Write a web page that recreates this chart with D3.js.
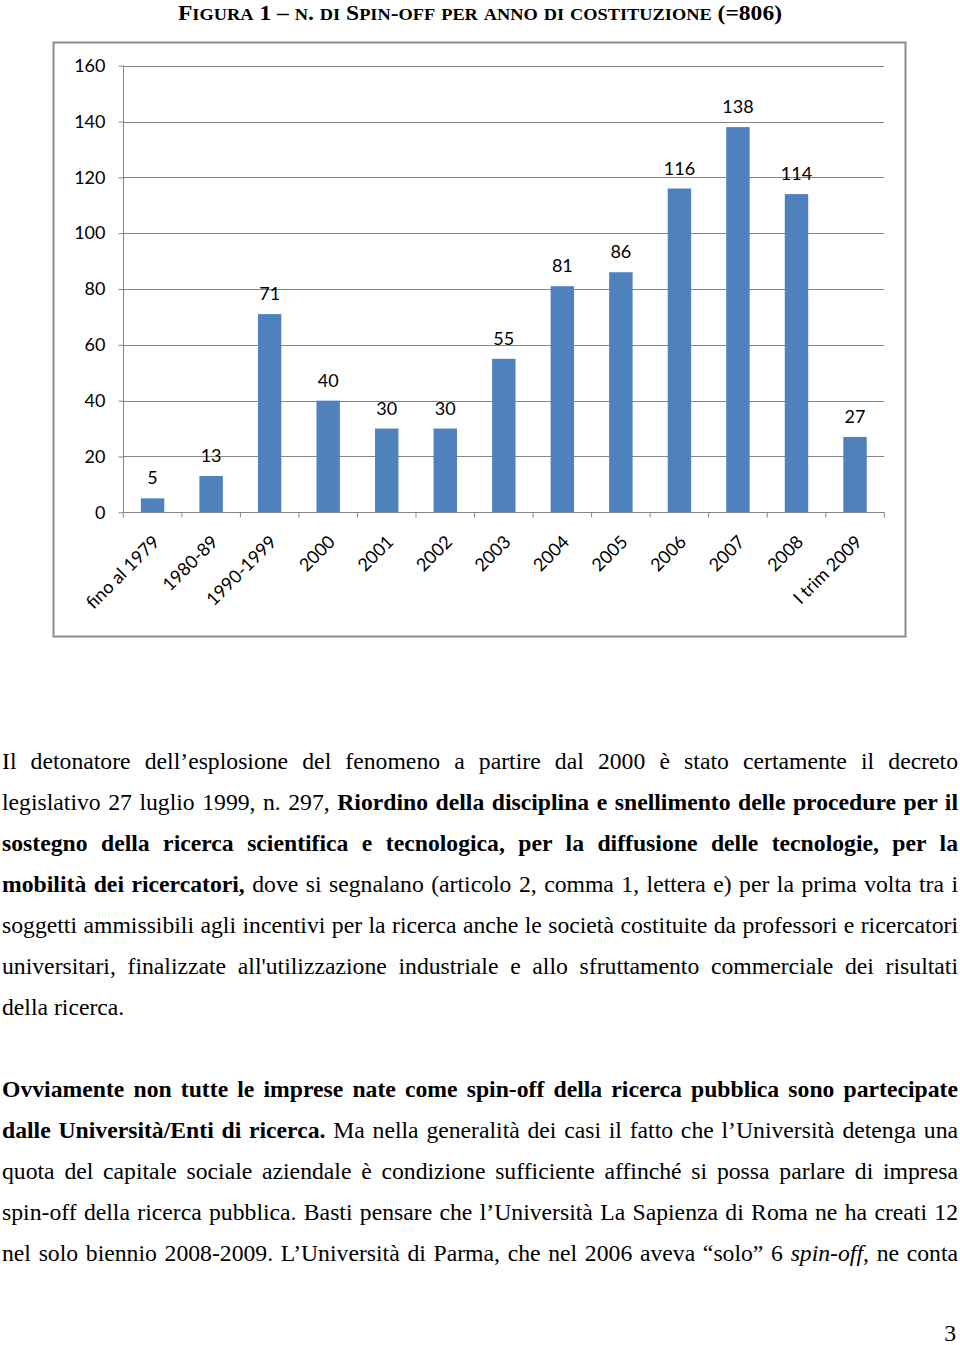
<!DOCTYPE html>
<html><head><meta charset="utf-8">
<script src="https://cdn.jsdelivr.net/npm/d3@7/dist/d3.min.js"></script>
<style>
html,body{margin:0;padding:0;background:#fff;}
body{width:960px;height:1345px;position:relative;overflow:hidden;}
.line{position:absolute;left:2px;width:956px;font-family:"Liberation Serif","Times New Roman",serif;font-size:23.7px;line-height:26px;color:#000;white-space:nowrap;}
.j{text-align:justify;text-align-last:justify;white-space:normal;}
#pnum{position:absolute;right:4px;font-family:"Liberation Serif",serif;font-size:23.7px;line-height:26px;}
svg{position:absolute;left:0;top:0;}
</style></head>
<body>
<svg id="chart" width="960" height="660"></svg>
<div id="text"></div>
<div id="pnum" style="top:1320px">3</div>
<script>
const titleText = "Figura 1 – n. di Spin-off per anno di costituzione (=806)";
const categories = ["fino al 1979","1980-89","1990-1999","2000","2001","2002","2003","2004","2005","2006","2007","2008","I trim 2009"];
const values = [5,13,71,40,30,30,55,81,86,116,138,114,27];
const yTicks = [0,20,40,60,80,100,120,140,160];

const para1 = [
 ["Il detonatore dell’esplosione del fenomeno a partire dal 2000 è stato certamente il decreto", true],
 ["legislativo 27 luglio 1999, n. 297, <b>Riordino della disciplina e snellimento delle procedure per il</b>", true],
 ["<b>sostegno della ricerca scientifica e tecnologica, per la diffusione delle tecnologie, per la</b>", true],
 ["<b>mobilità dei ricercatori,</b> dove si segnalano (articolo 2, comma 1, lettera e) per la prima volta tra i", true],
 ["soggetti ammissibili agli incentivi per la ricerca anche le società costituite da professori e ricercatori", true],
 ["universitari, finalizzate all'utilizzazione industriale e allo sfruttamento commerciale dei risultati", true],
 ["della ricerca.", false]
];
const para2 = [
 ["<b>Ovviamente non tutte le imprese nate come spin-off della ricerca pubblica sono partecipate</b>", true],
 ["<b>dalle Università/Enti di ricerca.</b> Ma nella generalità dei casi il fatto che l’Università detenga una", true],
 ["quota del capitale sociale aziendale è condizione sufficiente affinché si possa parlare di impresa", true],
 ["spin-off della ricerca pubblica. Basti pensare che l’Università La Sapienza di Roma ne ha creati 12", true],
 ["nel solo biennio 2008-2009. L’Università di Parma, che nel 2006 aveva “solo” 6 <i>spin-off</i>, ne conta", true]
];

const svg = d3.select("#chart");
const axisColor = "#868686";
const sans = "Lato, 'Open Sans', sans-serif";

// title with manual small caps
const tsize = 22;
const title = svg.append("text").attr("x",178).attr("y",19.8)
  .attr("font-family","'Liberation Serif','Times New Roman',serif").attr("font-weight","bold")
  .attr("font-size",tsize).attr("fill","#000")
  .attr("textLength",604).attr("lengthAdjust","spacingAndGlyphs");
const runs = titleText.match(/[a-zàèéìòù]+|[^a-zàèéìòù]+/g);
runs.forEach(r=>{
  const lower = /[a-zàèéìòù]/.test(r[0]);
  title.append("tspan").attr("font-size", lower ? tsize*0.78 : tsize).text(lower ? r.toUpperCase() : r);
});

// frame
svg.append("rect").attr("x",53.5).attr("y",42.5).attr("width",852).attr("height",594)
  .attr("fill","#fff").attr("stroke","#8c8c8c").attr("stroke-width",2);

const x = d3.scaleBand().domain(categories).range([123.3, 884.3]).padding(0);
const y = d3.scaleLinear().domain([0,160]).range([512.3, 65.7]);
const bw = x.bandwidth()*0.4;

// gridlines
svg.append("g").selectAll("line").data(yTicks.filter(d=>d>0)).join("line")
  .attr("x1",123.3).attr("x2",884.3).attr("y1",d=>Math.round(y(d))+0.5).attr("y2",d=>Math.round(y(d))+0.5)
  .attr("stroke",axisColor).attr("stroke-width",1);

// y axis
const ya = svg.append("g").attr("transform","translate(123.5,0)")
  .call(d3.axisLeft(y).tickValues(yTicks).tickSize(5).tickPadding(13));
ya.select(".domain").attr("stroke",axisColor).attr("d","M0,"+y(160)+"V"+y(0));
ya.selectAll(".tick line").attr("stroke",axisColor);
ya.selectAll(".tick text").attr("font-family",sans).attr("font-size",18).attr("fill","#000");

// bars
svg.append("g").selectAll("rect").data(values).join("rect")
  .attr("x",(d,i)=>x(categories[i])+x.bandwidth()/2-bw/2)
  .attr("width",bw)
  .attr("y",d=>y(d)).attr("height",d=>y(0)-y(d))
  .attr("fill","#4F81BD");

// x axis
const xa = svg.append("g").attr("transform","translate(0,"+(Math.round(y(0))+0.5)+")");
xa.append("line").attr("x1",123.3).attr("x2",884.3).attr("stroke",axisColor);
const bounds = categories.map(c=>x(c)).concat([x.range()[1]]);
xa.selectAll("line.t").data(bounds).join("line").attr("class","t")
  .attr("x1",d=>d).attr("x2",d=>d).attr("y1",0).attr("y2",5).attr("stroke",axisColor);

svg.append("g").selectAll("text").data(categories).join("text")
  .attr("transform",d=>"translate("+(x(d)+x.bandwidth()/2+8)+",543) rotate(-45)")
  .attr("text-anchor","end")
  .attr("font-family",sans).attr("font-size",18).attr("fill","#000")
  .text(d=>d);

// value labels
svg.append("g").selectAll("text").data(values).join("text")
  .attr("x",(d,i)=>x(categories[i])+x.bandwidth()/2)
  .attr("y",d=>y(d)-14)
  .attr("text-anchor","middle")
  .attr("font-family",sans).attr("font-size",18).attr("fill","#000")
  .text(d=>d);

// paragraphs
const tx = d3.select("#text");
function addLines(lines, baseline0, step){
  lines.forEach((l,i)=>{
    tx.append("div").attr("class","line"+(l[1]?" j":""))
      .style("top",(baseline0+i*step-21)+"px").html(l[0]);
  });
}
addLines(para1, 769, 41);
addLines(para2, 1097, 41);
</script>
</body></html>
